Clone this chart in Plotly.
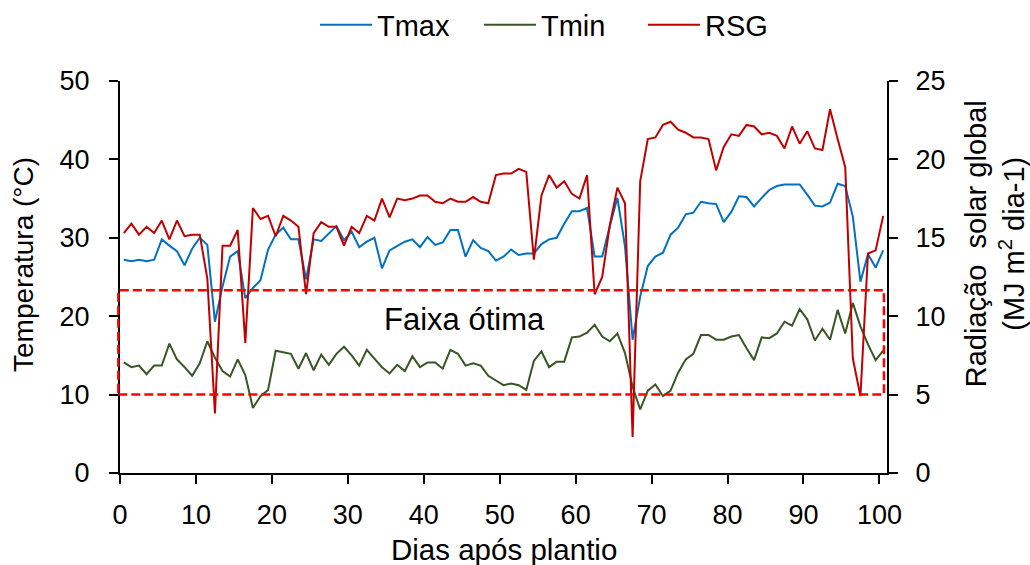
import plotly.graph_objects as go

# ---------------- data ----------------
dias = list(range(1, 102))  # 101 daily observations (category centres)

tmax = [27.2, 27.0, 27.2, 27.0, 27.2, 29.8, 29.0, 28.3, 26.5, 28.6, 30.0, 29.1,
        19.3, 23.8, 27.6, 28.3, 22.3, 23.6, 24.6, 28.5, 30.4, 31.3, 29.8, 29.8, 24.7,
        29.8, 29.6, 30.5, 31.5, 29.7, 30.8, 28.8, 29.5, 30.0, 26.1, 28.4, 28.9, 29.5,
        29.8, 28.8, 30.1, 29.1, 29.4, 31.0, 31.0, 27.6, 29.7, 28.7, 28.3, 27.1,
        27.6, 28.5, 27.8, 28.0, 28.0, 29.2, 29.8, 30.0, 31.8, 33.4, 33.4, 33.8, 27.6,
        27.6, 31.5, 35.1, 28.9, 17.0, 22.5, 26.4, 27.6, 28.1, 30.4, 31.3, 33.0,
        33.2, 34.6, 34.4, 34.3, 32.0, 33.3, 35.3, 35.2, 34.0, 35.1, 36.1, 36.6, 36.8,
        36.8, 36.8, 35.5, 34.1, 34.0, 34.5, 36.9, 36.6, 32.7, 24.4, 27.9, 26.2, 28.4]

tmin = [14.1, 13.5, 13.7, 12.6, 13.7, 13.7, 16.5, 14.5, 13.5, 12.4, 14.0, 16.8,
        14.7, 13.0, 12.3, 14.5, 12.5, 8.3, 9.8, 10.6, 15.6, 15.4, 15.2, 13.3, 15.3,
        13.1, 15.1, 13.8, 15.2, 16.1, 15.0, 13.7, 15.7, 14.6, 13.5, 12.7, 13.8, 13.0,
        14.9, 13.5, 14.1, 14.1, 13.3, 15.7, 15.2, 13.7, 14.0, 13.7, 12.4, 11.8,
        11.2, 11.4, 11.2, 10.6, 14.3, 15.5, 13.5, 14.2, 14.2, 17.3, 17.4, 17.9, 18.9,
        17.4, 16.8, 17.8, 15.3, 11.0, 8.1, 10.5, 11.3, 9.8, 10.5, 12.8, 14.5,
        15.2, 17.6, 17.6, 17.0, 17.0, 17.4, 17.6, 15.9, 14.4, 17.3, 17.2, 17.8, 19.3,
        18.8, 20.9, 19.6, 16.9, 18.4, 17.0, 20.8, 17.8, 21.7, 18.7, 16.4, 14.4, 15.6]

rsg = [15.3, 15.9, 15.2, 15.7, 15.3, 16.1, 14.9, 16.1, 15.1, 15.2, 15.2, 12.4,
       3.8, 14.5, 14.5, 15.5, 8.3, 16.9, 16.2, 16.4, 15.1, 16.4, 16.1, 15.7, 11.4,
       15.3, 16.0, 15.7, 15.7, 14.5, 15.7, 15.3, 16.4, 16.1, 17.5, 16.3, 17.5, 17.4,
       17.5, 17.7, 17.7, 17.3, 17.2, 17.5, 17.3, 17.3, 17.6, 17.3, 17.2, 19.0,
       19.1, 19.1, 19.4, 19.2, 13.6, 17.7, 19.0, 18.2, 18.6, 17.8, 17.5, 19.0, 11.4,
       12.5, 15.8, 18.2, 17.2, 2.3, 18.6, 21.3, 21.4, 22.2, 22.4, 21.9, 21.7,
       21.4, 21.4, 21.3, 19.3, 20.8, 21.6, 21.5, 22.2, 22.1, 21.6, 21.7, 21.5, 20.7,
       22.1, 21.0, 21.8, 20.7, 20.6, 23.2, 21.3, 19.5, 7.3, 4.9, 14.0, 14.2, 16.4]

x_ticks = [0, 10, 20, 30, 40, 50, 60, 70, 80, 90, 100]
y_ticks = [0, 10, 20, 30, 40, 50]
y2_ticks = [0, 5, 10, 15, 20, 25]

faixa_min = 10.0
faixa_max = 23.3

# ---------------- figure ----------------
FONT = "Liberation Sans, Arial, sans-serif"
xpos = [d - 0.5 for d in dias]

fig = go.Figure()
fig.add_trace(go.Scatter(x=xpos, y=tmax, name="Tmax", mode="lines",
                         line=dict(color="#0070C0", width=2)))
fig.add_trace(go.Scatter(x=xpos, y=tmin, name="Tmin", mode="lines",
                         line=dict(color="#375623", width=2)))
fig.add_trace(go.Scatter(x=xpos, y=rsg, name="RSG", mode="lines", yaxis="y2",
                         line=dict(color="#C00000", width=2)))

axis_common = dict(showline=True, linecolor="black", linewidth=2, ticks="outside",
                   ticklen=9, tickwidth=2, tickcolor="black", showgrid=False,
                   zeroline=False, tickfont=dict(size=27, color="black", family=FONT))

fig.update_layout(
    width=1030, height=565,
    margin=dict(l=120, r=143, t=81, b=92, autoexpand=False),
    paper_bgcolor="white", plot_bgcolor="white",
    font=dict(family=FONT, size=27, color="black"),
    xaxis=dict(range=[0, 101], tickvals=x_ticks, ticklabelstandoff=8, **axis_common),
    yaxis=dict(range=[0, 50], tickvals=y_ticks, ticklabelstandoff=14, **axis_common),
    yaxis2=dict(range=[0, 25], tickvals=y2_ticks, overlaying="y", side="right",
                ticklabelstandoff=12, **axis_common),
    legend=dict(orientation="h", x=0.2542, xanchor="left", y=1.143, yanchor="middle",
                font=dict(size=29, family=FONT), itemwidth=52, entrywidth=97,
                bgcolor="rgba(0,0,0,0)"),
    shapes=[dict(type="rect", xref="paper", yref="y", x0=-0.0022, x1=0.996,
                 y0=faixa_min, y1=faixa_max,
                 line=dict(color="#FF0000", width=2.5, dash="9px,4px"))],
    annotations=[
        dict(text="Faixa ótima", x=45.3, y=19.55, xref="x", yref="y", showarrow=False,
             xanchor="center", yanchor="middle", font=dict(size=31, family=FONT)),
        dict(text="Temperatura (°C)", x=-0.125, y=0.531, xref="paper", yref="paper",
             showarrow=False, textangle=-90, xanchor="center", yanchor="middle",
             font=dict(size=28, family=FONT)),
        dict(text="Radiação  solar global<br>(MJ m<sup>2</sup> dia-1)", x=1.141, y=0.584,
             xref="paper", yref="paper", showarrow=False, textangle=-90,
             xanchor="center", yanchor="middle", font=dict(size=29, family=FONT)),
        dict(text="Dias após plantio", x=0.5007, y=-0.194, xref="paper", yref="paper",
             showarrow=False, xanchor="center", yanchor="middle",
             font=dict(size=29.5, family=FONT)),
    ],
)

fig.write_html("out.html")
